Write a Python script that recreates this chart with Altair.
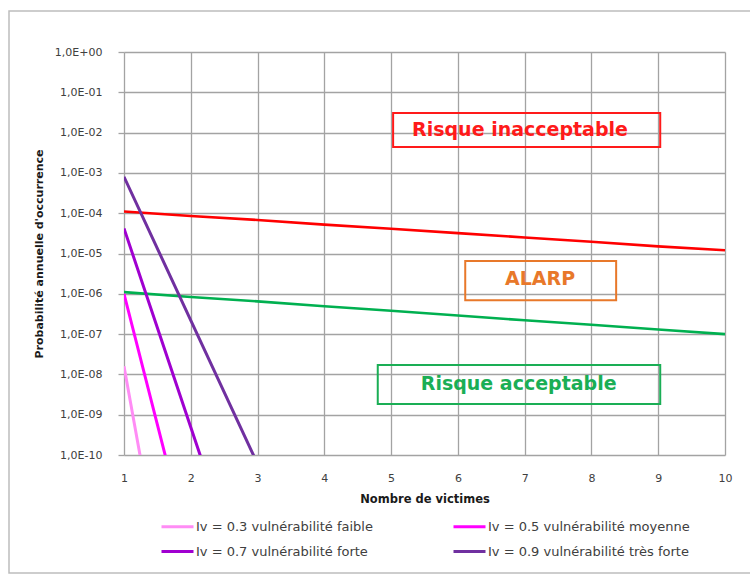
import altair as alt
import pandas as pd

# ---------------- data ----------------
victims = [1, 2, 3, 4, 5, 6, 7, 8, 9, 10]
red_limit = [1.1e-4, 8.5e-5, 6.8e-5, 5.2e-5, 4.1e-5, 3.2e-5, 2.5e-5, 1.95e-5, 1.5e-5, 1.2e-5]
green_limit = [1.1e-6, 8.3e-7, 6.5e-7, 4.9e-7, 3.8e-7, 2.9e-7, 2.2e-7, 1.7e-7, 1.3e-7, 1.0e-7]

steep_x = [1, 2, 3]
series_labels = [
    "Iv = 0.3 vulnérabilité faible",
    "Iv = 0.5 vulnérabilité moyenne",
    "Iv = 0.7 vulnérabilité forte",
    "Iv = 0.9 vulnérabilité très forte",
]
iv03 = [1.6e-8, 1.0e-17, 1.0e-26]
iv05 = [1.0e-6, 3.2e-13, 1.0e-19]
iv07 = [4.2e-5, 4.9e-10, 5.6e-15]
iv09 = [8.0e-4, 2.2e-7, 6.0e-11]
series_colors = ["#FF8CF5", "#FF00FF", "#A000D0", "#7030A0"]

y_ticks = [1e0, 1e-1, 1e-2, 1e-3, 1e-4, 1e-5, 1e-6, 1e-7, 1e-8, 1e-9, 1e-10]
y_tick_labels = ["1,0E+00", "1,0E-01", "1,0E-02", "1,0E-03", "1,0E-04", "1,0E-05",
                 "1,0E-06", "1,0E-07", "1,0E-08", "1,0E-09", "1,0E-10"]

zone_labels = ["Risque inacceptable", "ALARP", "Risque acceptable"]
zone_colors = ["#FF1A1A", "#E8782A", "#1AAE55"]
zone_text_x = [6.93, 7.23, 6.91]
zone_text_y = [1.15e-2, 2.3e-6, 5.9e-9]
zone_box_x1 = [5.03, 6.11, 4.80]
zone_box_x2 = [9.03, 8.37, 9.03]
zone_box_y1 = [3.07e-2, 6.5e-6, 1.7e-8]
zone_box_y2 = [4.4e-3, 6.9e-7, 1.85e-9]

# ---------------- tables ----------------
limits = pd.DataFrame({"x": victims, "red": red_limit, "green": green_limit})
rows = []
for lab, vals in zip(series_labels, [iv03, iv05, iv07, iv09]):
    for xv, yv in zip(steep_x, vals):
        rows.append({"x": xv, "y": yv, "serie": lab})
steep = pd.DataFrame(rows)
zones = pd.DataFrame({
    "label": zone_labels, "color": zone_colors,
    "tx": zone_text_x, "ty": zone_text_y,
    "x1": zone_box_x1, "x2": zone_box_x2, "y1": zone_box_y1, "y2": zone_box_y2,
})

label_expr = (
    "[" + ",".join("'" + s + "'" for s in y_tick_labels) + "]"
    + "[indexof([" + ",".join(repr(v) for v in y_ticks) + "], datum.value)]"
)

FONT = "DejaVu Sans"
GRID = "#A3A3A3"

x_scale = alt.Scale(domain=[1, 10], nice=False, zero=False)
y_scale = alt.Scale(type="log", domain=[1e-10, 1], nice=False)

x_axis = alt.Axis(
    title="Nombre de victimes", values=victims, format="d",
    grid=True, gridColor=GRID, gridWidth=1.3, domain=False,
    ticks=False, tickSize=0, labelPadding=17,
    labelFont=FONT, labelFontSize=11, labelColor="#404040",
    titleFont=FONT, titleFontSize=11.5, titleFontWeight="bold", titleColor="#1a1a1a",
    titlePadding=10, labelFlush=False,
)
y_axis = alt.Axis(
    title="Probabilité annuelle d'occurrence", values=y_ticks, labelExpr=label_expr,
    grid=True, gridColor=GRID, gridWidth=1.3, domain=False,
    ticks=True, tickSize=6, tickColor=GRID, tickWidth=1.3, labelPadding=16,
    labelFont=FONT, labelFontSize=11, labelColor="#404040",
    titleFont=FONT, titleFontSize=11, titleFontWeight="bold", titleColor="#1a1a1a",
    titlePadding=10, labelFlush=False,
)

base_lim = alt.Chart(limits)
red = base_lim.mark_line(color="#FF0000", strokeWidth=2.6, clip=True).encode(
    x=alt.X("x:Q", scale=x_scale, axis=x_axis),
    y=alt.Y("red:Q", scale=y_scale, axis=y_axis),
)
green = base_lim.mark_line(color="#00B050", strokeWidth=2.6, clip=True).encode(
    x=alt.X("x:Q", scale=x_scale),
    y=alt.Y("green:Q", scale=y_scale),
)

steep_lines = alt.Chart(steep).mark_line(strokeWidth=3, clip=True).encode(
    x=alt.X("x:Q", scale=x_scale),
    y=alt.Y("y:Q", scale=y_scale),
    color=alt.Color(
        "serie:N",
        scale=alt.Scale(domain=series_labels, range=series_colors),
        legend=alt.Legend(
            title=None, orient="none", legendX=42, legendY=463,
            direction="horizontal",
            columns=2, columnPadding=74, rowPadding=6,
            symbolType="M-1.6,0L1.6,0", symbolSize=400, symbolStrokeWidth=3,
            labelFont=FONT, labelFontSize=13, labelColor="#404040",
            labelOffset=7, padding=0, labelLimit=400,
        ),
    ),
    detail="serie:N",
)

boxes = alt.Chart(zones).mark_rect(filled=False, strokeWidth=2, clip=True).encode(
    x=alt.X("x1:Q", scale=x_scale), x2="x2:Q",
    y=alt.Y("y1:Q", scale=y_scale), y2="y2:Q",
    stroke=alt.Stroke("color:N", scale=None),
)
texts = alt.Chart(zones).mark_text(
    font=FONT, fontSize=19, fontWeight="bold", align="center", baseline="middle"
).encode(
    x=alt.X("tx:Q", scale=x_scale),
    y=alt.Y("ty:Q", scale=y_scale),
    text="label:N",
    color=alt.Color("color:N", scale=None),
)

frame = alt.Chart(pd.DataFrame({"k": [0]})).mark_rect(
    filled=False, stroke="#BDBDBD", strokeWidth=1.5
).encode(
    x=alt.value(-115), x2=alt.value(640),
    y=alt.value(-41), y2=alt.value(521),
)

chart = alt.layer(frame, boxes, red, green, steep_lines, texts).properties(
    width=601, height=403,
    autosize=alt.AutoSizeParams(type="none"),
    padding={"left": 124, "top": 52, "right": 25, "bottom": 123},
    background="white",
).configure_view(stroke=None)

chart.save("out.html", embed_options={"renderer": "svg", "actions": False})
